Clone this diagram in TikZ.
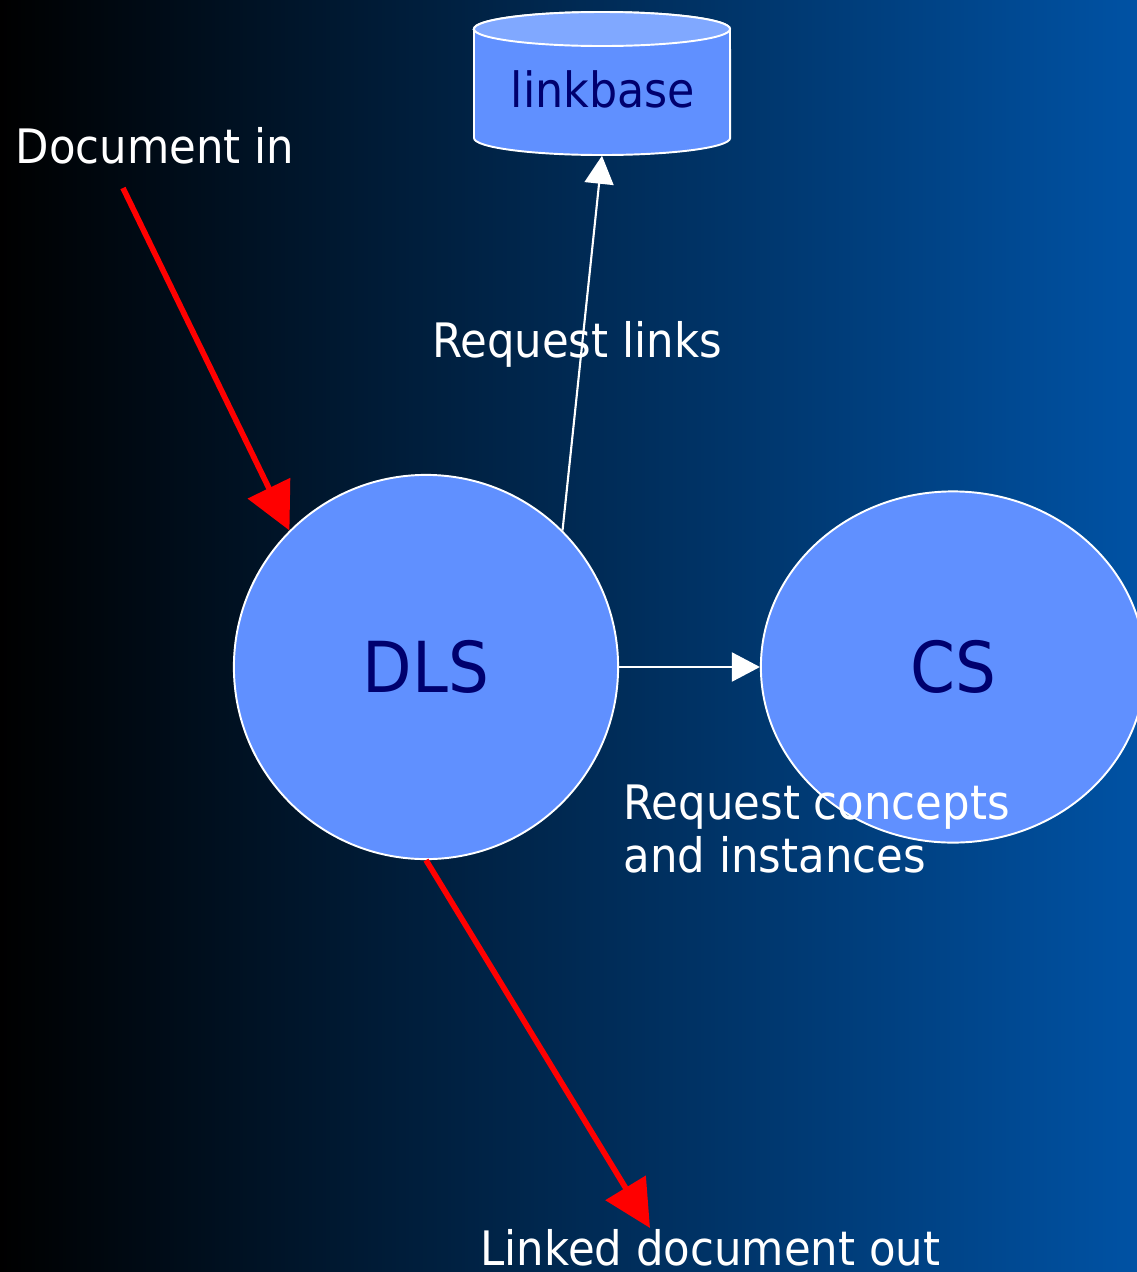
\documentclass[tikz,border=0pt]{standalone}
\usepackage{fontspec}
\setmainfont{DejaVu Sans}[FakeStretch=0.915]
\usetikzlibrary{arrows.meta,shapes.geometric}
\definecolor{nodefill}{RGB}{96,144,255}
\definecolor{topfill}{RGB}{128,168,255}
\definecolor{navytext}{RGB}{0,0,110}
\definecolor{bgright}{RGB}{0,82,164}
\begin{document}
\begin{tikzpicture}[x=0.01cm,y=-0.01cm,
  lbl/.style={text=white,font=\fontsize{13.5}{14.8}\selectfont,inner sep=0pt},
  blob/.style={draw=white,line width=0.55pt,fill=nodefill,text=navytext,font=\fontsize{20}{24}\selectfont},
  redarrow/.style={draw=red,line width=1.6pt,-{Triangle[length=0.47cm,width=0.46cm]}},
  whitearrow/.style={draw=white,line width=0.6pt,-{Triangle[length=0.28cm,width=0.29cm]}}]
\shade[left color=black,right color=bgright] (0,0) rectangle (1137,1272);
\useasboundingbox (0,0) rectangle (1137,1272);
% cylinder
\path[draw=white,line width=0.55pt,fill=nodefill] (474,29) -- (474,138)
  arc[start angle=180,end angle=360,x radius=1.28cm,y radius=0.17cm] -- (730,29)
  arc[start angle=0,end angle=180,x radius=1.28cm,y radius=0.17cm] -- cycle;
\path[draw=white,line width=0.55pt,fill=topfill] (602,29) ellipse[x radius=1.28cm,y radius=0.17cm];
\node[minimum width=2.56cm,minimum height=1.43cm,inner sep=0pt] (linkbase) at (602,83.5) {};
\node[text=navytext,font=\fontsize{13.8}{16}\selectfont,inner sep=0pt,anchor=base] (lbtext) at (603,107) {linkbase};
% circles
\node[blob,circle,minimum size=3.84cm,inner sep=0pt] (DLS) at (426,667) {DLS};
\node[blob,ellipse,minimum width=3.84cm,minimum height=3.51cm,inner sep=0pt] (CS) at (953,667) {CS};
% coordinates
\coordinate (docin) at (123,188);
\coordinate (docout) at (650,1228);
% connectors
\draw[redarrow] (docin) -- (DLS.135);
\draw[redarrow] (DLS.south) -- (docout);
\draw[whitearrow] (DLS.45) -- (linkbase.south);
\draw[whitearrow] (DLS.east) -- (CS.west);
% labels
\node[lbl,anchor=base west] (ldocin) at (15,163) {Document in};
\node[lbl,anchor=base] (lreq) at (577,357) {Request links};
\node[lbl,anchor=base west,align=left] (lconc) at (623,872) {Request concepts\\and instances};
\node[lbl,anchor=base west] (lout) at (480,1265) {Linked document out};
\end{tikzpicture}
\end{document}
